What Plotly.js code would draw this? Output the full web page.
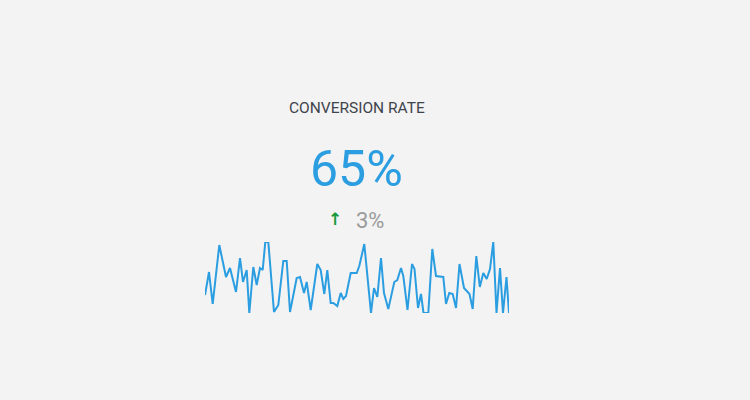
<!DOCTYPE html>
<html>
<head>
<meta charset="utf-8">
<script src="https://cdn.plot.ly/plotly-3.0.1.min.js"></script>
<style>html,body{margin:0;padding:0;background:#f3f3f3;}#chart{width:750px;height:400px;}</style>
</head>
<body>
<div id="chart"></div>
<script>
// Data
const titleText = "CONVERSION RATE";
const currentValue = 65;
const deltaValue = 3;
const valueSuffix = "%";
const sparkX = [0,4,7.7,14.3,21,25,31,35,38,41.7,44.3,48.3,51.7,55,57.7,60.3,63.3,69,73.3,78.3,81.7,85,91.7,95,99,101.7,105.7,112.3,115.7,119.3,122.3,125.7,128.3,132.3,135.7,138.3,141,145.7,151.7,154.3,159.3,166,169,172.3,176,179,183.3,189.3,192.3,196,198.3,202.5,207,209.5,213,216,218.5,223.3,227.3,231,238.3,241,244.3,247.7,251,254.5,259,262,264.5,267.7,271.3,274.8,278.3,281.7,285,288.3,291.5,295,298,301.5,304];
const sparkY = [25,48,16,75,43,52,28,62,38,50,7,53,35,52,50,78,78,8,15,59,59,8,42,43,27,38,10,56,50,26,50,17,17,14,27,21,24,47,47,54,76,7,32,23,62,27,11,38,40,52,44,10,56,51,12,26,7,7,71,44,43,16,27,26,12,56,32,29,26,11,64,33,47,41,51,78,7,52,7,43,7];

const blue = "#2b9de1";
const W = 750, H = 400;
const px = v => v / W, py = v => 1 - v / H;

const trace = {
  type: "scatter", mode: "lines",
  x: sparkX, y: sparkY,
  line: {color: blue, width: 2},
  hoverinfo: "skip"
};

const layout = {
  width: W, height: H,
  margin: {l: 0, r: 0, t: 0, b: 0},
  paper_bgcolor: "#f3f3f3", plot_bgcolor: "#f3f3f3",
  showlegend: false,
  xaxis: {domain: [px(205), px(509)], range: [Math.min(...sparkX), Math.max(...sparkX)], visible: false, fixedrange: true},
  yaxis: {domain: [py(313), py(242)], range: [Math.min(...sparkY), Math.max(...sparkY)], visible: false, fixedrange: true},
  annotations: [
    {xref: "paper", yref: "paper", x: px(356.5), y: py(107.5), xanchor: "center", yanchor: "middle", showarrow: false,
     text: titleText, font: {family: "Roboto, sans-serif", size: 15.5, color: "#3f444c"}},
    {xref: "paper", yref: "paper", x: px(356), y: py(169), xanchor: "center", yanchor: "middle", showarrow: false,
     text: currentValue + valueSuffix, font: {family: "Roboto, sans-serif", size: 50, color: blue}},
    {xref: "paper", yref: "paper", x: px(335), y: py(219), xanchor: "center", yanchor: "middle", showarrow: false,
     text: "<b>↑</b>", font: {family: "DejaVu Sans, sans-serif", size: 17, color: "#1a9a3e"}},
    {xref: "paper", yref: "paper", x: px(369.5), y: py(220), xanchor: "center", yanchor: "middle", showarrow: false,
     text: deltaValue + valueSuffix, font: {family: "Roboto, sans-serif", size: 22, color: "#9a9a9a"}}
  ]
};

Plotly.newPlot("chart", [trace], layout, {displayModeBar: false, staticPlot: true});
</script>
</body>
</html>
